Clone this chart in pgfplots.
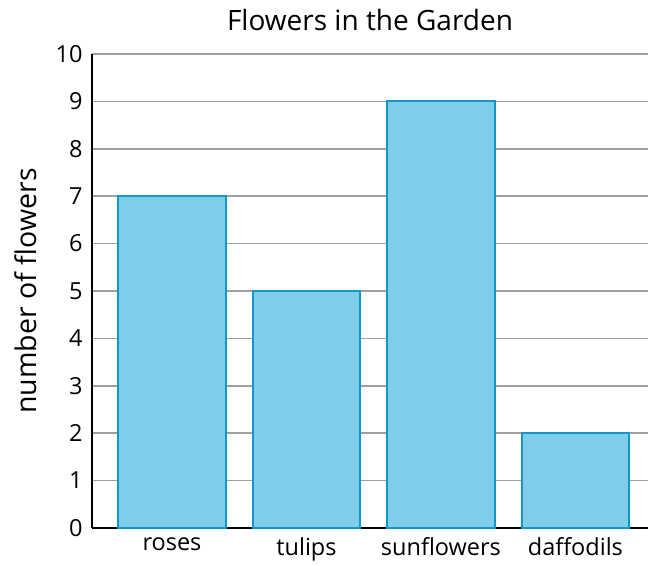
\documentclass[border=0pt]{standalone}
\usepackage{fontspec}
\setmainfont{Open Sans}
\usepackage{pgfplots}
\pgfplotsset{compat=1.18}
\definecolor{barfill}{RGB}{126,206,234}
\definecolor{baredge}{RGB}{20,150,200}
\definecolor{gridgray}{RGB}{160,160,160}
\begin{document}
\begin{tikzpicture}
\begin{axis}[
  width=556pt, height=474pt,
  scale only axis,
  xmin=-0.595, xmax=3.54,
  ymin=0, ymax=10,
  ytick={0,1,...,10},
  xtick=data,
  xticklabels={roses,tulips,sunflowers,daffodils},
  axis x line*=bottom,
  axis y line*=left,
  axis line style={black, line width=2pt},
  major tick length=0pt,
  ymajorgrids,
  grid style={gridgray, line width=1.5pt},
  /pgf/number format/assume math mode=true,
  tick label style={font=\fontsize{23.5}{28}\selectfont},
  yticklabel style={xshift=-6pt},
  xticklabel style={yshift=-6pt},
  ylabel={number of flowers},
  ylabel style={font=\fontsize{28.5}{33}\selectfont, yshift=12pt},
  title={Flowers in the Garden},
  title style={font=\fontsize{28}{33}\selectfont, yshift=14pt},
  ybar,
  bar width=0.8,
]
\addplot[fill=barfill, draw=baredge, line width=2pt] coordinates {(0,7) (1,5) (2,9) (3,2)};
\end{axis}
\pgfresetboundingbox
\path[use as bounding box] (current axis.south west) ++(-92pt,-37pt) rectangle ++(650pt,565pt);
\end{tikzpicture}
\end{document}
